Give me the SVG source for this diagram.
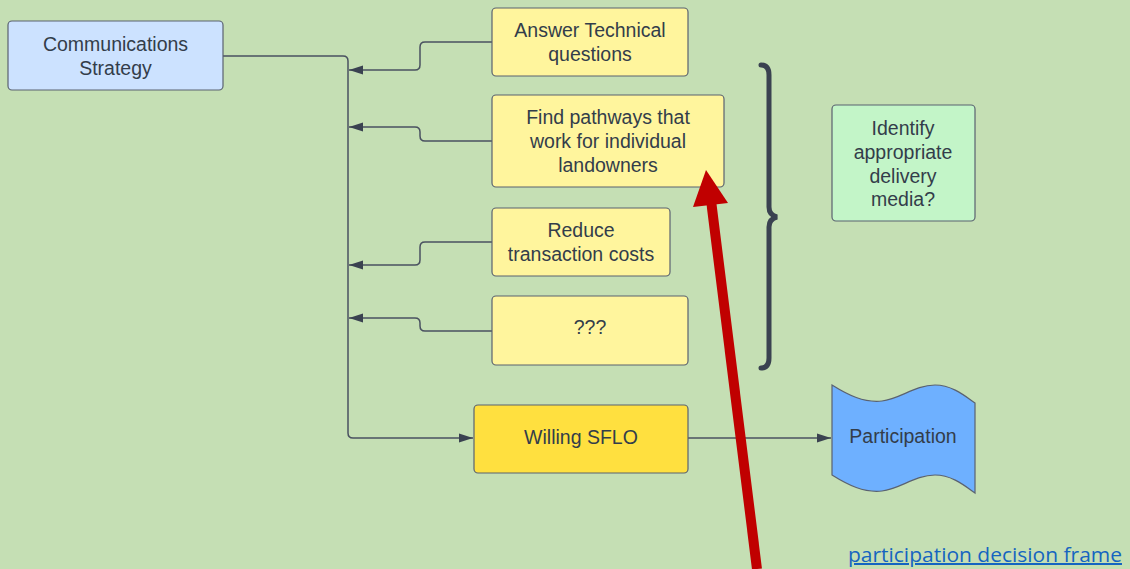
<svg xmlns="http://www.w3.org/2000/svg" width="1130" height="569" viewBox="0 0 1130 569">
<style>
.t{font-family:"Liberation Sans",Arial,sans-serif;font-size:19.5px;fill:#333d4a;text-anchor:middle}
.box{stroke:#5a6270;stroke-width:1.2}
.y{fill:#fff59d}
.c{fill:none;stroke:#4a5260;stroke-width:1.5}
</style>
<defs>
<marker id="ah" markerWidth="14" markerHeight="10" refX="14" refY="5" orient="auto" markerUnits="userSpaceOnUse">
<path d="M0,0.5 L14,5 L0,9.5 Z" fill="#3a4250"/>
</marker>
</defs>
<rect width="1130" height="569" fill="#c5dfb4"/>
<g id="connectors">
<path class="c" d="M223,56 H343 Q348,56 348,61 V433 Q348,438 353,438 H473" marker-end="url(#ah)"/>
<path class="c" d="M492,42 H425 Q420,42 420,47 V65 Q420,70 415,70 H349" marker-end="url(#ah)"/>
<path class="c" d="M492,141 H425 Q420,141 420,136 V132 Q420,127 415,127 H349" marker-end="url(#ah)"/>
<path class="c" d="M492,242 H425 Q420,242 420,247 V260 Q420,265 415,265 H349" marker-end="url(#ah)"/>
<path class="c" d="M492,331 H425 Q420,331 420,326 V323 Q420,318 415,318 H349" marker-end="url(#ah)"/>
<path class="c" d="M688,438 H831" marker-end="url(#ah)"/>
</g>
<g id="comm">
<rect class="box" x="8" y="21" width="215" height="69" rx="4" fill="#cce2ff"/>
<text class="t" x="115.5" y="51">Communications</text>
<text class="t" x="115.5" y="75">Strategy</text>
</g>
<g id="answer">
<rect class="box y" x="492" y="8" width="196" height="68" rx="4"/>
<text class="t" x="590" y="37">Answer Technical</text>
<text class="t" x="590" y="61">questions</text>
</g>
<g id="pathways">
<rect class="box y" x="492" y="95" width="232" height="92" rx="4"/>
<text class="t" x="608" y="124">Find pathways that</text>
<text class="t" x="608" y="148">work for individual</text>
<text class="t" x="608" y="172">landowners</text>
</g>
<g id="reduce">
<rect class="box y" x="492" y="208" width="178" height="68" rx="4"/>
<text class="t" x="581" y="237">Reduce</text>
<text class="t" x="581" y="261">transaction costs</text>
</g>
<g id="unknown">
<rect class="box y" x="492" y="296" width="196" height="69" rx="4"/>
<text class="t" x="590" y="334">???</text>
</g>
<g id="willing">
<rect class="box" x="474" y="405" width="214" height="68" rx="4" fill="#ffe03f"/>
<text class="t" x="581" y="444">Willing SFLO</text>
</g>
<g id="participation">
<path class="box" fill="#6eb0ff" d="M832,385 C848,395 864,403 882,401 C900,399 915,385 935,385 C952,385 965,396 975,403 L975,493 C965,486 952,475 935,475 C915,475 900,489 882,491 C864,493 848,485 832,475 Z"/>
<text class="t" x="903" y="443">Participation</text>
</g>
<g id="identify">
<rect class="box" x="832" y="105" width="143" height="116" rx="4" fill="#c3f5c8"/>
<text class="t" x="903" y="135">Identify</text>
<text class="t" x="903" y="159">appropriate</text>
<text class="t" x="903" y="183">delivery</text>
<text class="t" x="903" y="206">media?</text>
</g>
<g id="brace">
<path d="M761,65 Q769,65 769,75 V207 Q769,215 777,217 Q769,219 769,227 V358 Q769,368 761,368" fill="none" stroke="#3a4250" stroke-width="5" stroke-linecap="round"/>
</g>
<g id="redarrow">
<line x1="757" y1="569" x2="711" y2="200" stroke="#c00000" stroke-width="10"/>
<path d="M706,170 L728,203 L693,207 Z" fill="#c00000"/>
</g>
<g id="link">
<text x="848" y="562" textLength="274" lengthAdjust="spacingAndGlyphs" style="font-family:'Open Sans','Liberation Sans',sans-serif;font-size:20px;fill:#1565c0;text-decoration:underline">participation decision frame</text>
</g>
</svg>
